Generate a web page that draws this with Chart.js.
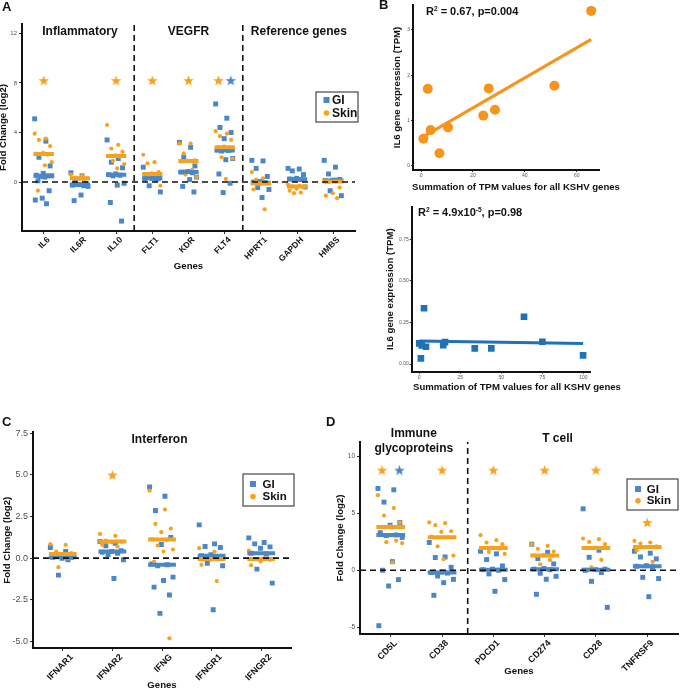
<!DOCTYPE html>
<html lang="en">
<head>
<meta charset="UTF-8">
<title>KSHV gene expression panels</title>
<script src="https://cdn.jsdelivr.net/npm/chart.js@4.4.1/dist/chart.umd.min.js"></script>
<style>
    html, body { margin: 0; padding: 0; overflow: hidden; background: #fff; }
    body { width: 685px; height: 689px; position: relative; font-family: "Liberation Sans", Arial, sans-serif; color: #111; }
    canvas, .lbl { position: absolute; }
    .letter { font-weight: bold; font-size: 13px; line-height: 1; }
    .stat { font-weight: bold; font-size: 11px; line-height: 12px; white-space: nowrap; }
    .stat sup { font-size: 6.5px; vertical-align: baseline; position: relative; top: -4px; }
    .axt { font-weight: bold; font-size: 9.6px; line-height: 12px; text-align: center; white-space: nowrap; }
</style>
</head>
<body>
<canvas id="chartA" width="362" height="272" style="left:0;top:0"></canvas>
<canvas id="chartBtop" width="300" height="193" style="left:385px;top:0"></canvas>
<canvas id="chartBbottom" width="300" height="200" style="left:385px;top:195px"></canvas>
<canvas id="chartC" width="298" height="266" style="left:0;top:425px"></canvas>
<canvas id="chartD" width="350" height="264" style="left:335px;top:425px"></canvas>

<div class="lbl letter" style="left:2px;top:0">A</div>
<div class="lbl letter" style="left:379px;top:-2px">B</div>
<div class="lbl letter" style="left:2px;top:415px">C</div>
<div class="lbl letter" style="left:326px;top:415px">D</div>
<div class="lbl stat" style="left:426px;top:5px">R<sup>2</sup> = 0.67, p=0.004</div>
<div class="lbl stat" style="left:418px;top:206px">R<sup>2</sup> = 4.9x10<sup>-5</sup>, p=0.98</div>
<div class="lbl axt" style="left:400px;width:232px;top:181px">Summation of TPM values for all KSHV genes</div>
<div class="lbl axt" style="left:401px;width:232px;top:381px">Summation of TPM values for all KSHV genes</div>

<script>
    // ---- Panel A: inflammatory / VEGFR / reference genes ----
    const genesA = ['IL6', 'IL6R', 'IL10', 'FLT1', 'KDR', 'FLT4', 'HPRT1', 'GAPDH', 'HMBS'];
    const giA = [
        [5.1, 3.3, 2.0, 1.3, 0.7, 0.55, 0.5, 0.45, 0.5, 0.4, 0.1, -0.7, -1.3, -1.45, -1.75],
        [0.75, 0.5, 0.1, -0.1, -0.2, -0.25, -0.3, -0.2, -0.35, -1.05, -1.5],
        [3.4, 1.9, 1.6, 1.15, 0.65, 0.6, 0.55, 0.5, -0.1, -0.25, -1.65, -3.15],
        [1.2, 0.5, 0.4, 0.3, 0.3, 0.25, 0.2, -0.3, -0.8],
        [3.2, 2.8, 2.0, 1.3, 0.85, 0.8, 0.75, 0.8, 0.4, 0.2, -0.35, -0.8],
        [6.3, 5.15, 4.4, 4.0, 3.5, 2.6, 2.55, 2.5, 1.9, 1.8, 0.65, -0.1, -0.85],
        [1.75, 1.7, 1.1, 0.45, 0.05, 0.0, -0.05, -0.45, -0.6, -1.25],
        [1.1, 1.05, 0.9, 0.6, 0.3, 0.25, 0.2, 0.2, -0.4],
        [1.75, 1.2, 0.65, 0.2, 0.15, 0.1, 0.15, -0.7, -1.1]
    ];
    const skinA = [
        [3.9, 3.5, 3.4, 2.9, 2.35, 2.3, 2.2, 2.25, 1.6, 1.35, -0.7],
        [0.6, 0.5, 0.35, 0.3, 0.25, 0.3, 0.2],
        [4.6, 3.0, 2.7, 2.45, 2.15, 2.1, 2.05, 1.7, 1.45, 1.1],
        [2.2, 1.6, 1.5, 0.8, 0.7, 0.65, 0.6, 0.5, -0.3],
        [3.1, 3.1, 2.3, 1.75, 1.7, 1.65, 1.0, 0.6, 0.4],
        [4.1, 3.9, 3.7, 3.4, 2.85, 2.8, 2.75, 2.0, 1.9, 0.25],
        [0.8, 0.3, 0.2, -0.1, -0.15, -0.6, -2.2],
        [-0.2, -0.3, -0.35, -0.4, -0.55, -0.7, -0.85, -0.9],
        [0.2, 0.05, 0.0, -0.45, -0.9, -1.1, -1.3]
    ];
    const giMedA = [0.5, -0.2, 0.58, 0.3, 0.8, 2.55, -0.05, 0.22, 0.12];
    const skinMedA = [2.27, 0.3, 2.1, 0.65, 1.7, 2.8, -0.12, -0.35, 0.05];
    const giStarA = [null, null, null, null, null, 8.2, null, null, null];
    const skinStarA = [8.2, null, 8.2, 8.2, 8.2, 8.2, null, null, null];
    const yTicksA = [0, 4, 8, 12];

    // ---- Panel C: interferon ----
    const genesC = ['IFNAR1', 'IFNAR2', 'IFNG', 'IFNGR1', 'IFNGR2'];
    const giC = [
        [0.64, 0.4, 0.1, 0.05, 0.0, 0.05, -0.1, -1.02],
        [1.0, 0.9, 0.75, 0.45, 0.4, 0.35, 0.3, 0.2, -0.1, -1.22],
        [4.28, 3.72, 2.86, 1.24, 0.82, -0.35, -0.4, -0.45, -1.14, -1.34, -1.74, -2.22, -3.32],
        [2.0, 0.86, 0.7, 0.64, 0.2, 0.15, 0.1, -0.3, -0.46, -3.1],
        [1.22, 0.94, 0.86, 0.68, 0.6, 0.3, 0.25, -0.66, -1.5]
    ];
    const skinC = [
        [0.84, 0.8, 0.4, 0.3, 0.25, 0.2, 0.0, -0.54],
        [1.46, 1.34, 1.05, 1.0, 0.95, 0.8, 0.7],
        [4.06, 2.92, 2.06, 1.78, 1.56, 1.15, 1.1, 0.76, 0.52, 0.4, -0.2, -4.82],
        [0.6, 0.4, 0.0, -0.05, -0.1, -0.4, -1.38],
        [0.46, 0.0, -0.05, -0.1, -0.2, -0.42]
    ];
    const giMedC = [0.05, 0.4, -0.4, 0.15, 0.3];
    const skinMedC = [0.25, 1.0, 1.12, -0.05, -0.05];
    const giStarC = [null, null, null, null, null];
    const skinStarC = [null, 5.0, null, null, null];
    const yTicksC = [-5, -2.5, 0, 2.5, 5, 7.5];

    // ---- Panel D: immune glycoproteins / T cell ----
    const genesD = ['CD5L', 'CD38', 'PDCD1', 'CD274', 'CD28', 'TNFRSF9'];
    const giD = [
        [7.19, 7.07, 5.99, 4.2, 3.96, 3.3, 3.1, 3.05, 2.88, 0.76, 0.0, -0.82, -1.38, -4.87],
        [2.44, 1.17, 1.12, 0.26, -0.15, -0.2, -0.25, -0.5, -0.8, -1.09, -2.2],
        [1.67, 1.44, 0.94, 0.38, 0.1, 0.05, 0.0, -0.32, -0.82, -1.85],
        [2.29, 1.58, 1.03, 0.56, 0.15, 0.1, 0.05, -0.26, -0.53, -0.79, -2.11],
        [5.4, 1.76, 1.14, 0.1, 0.05, 0.0, -0.2, -0.97, -3.26],
        [1.67, 1.5, 1.17, 1.0, 0.4, 0.35, 0.3, -0.62, -0.73, -2.32]
    ];
    const skinD = [
        [6.6, 5.46, 4.81, 4.2, 3.85, 3.8, 2.6, 2.47, 2.38, 0.7],
        [4.2, 4.14, 3.96, 3.43, 3.38, 2.95, 2.9, 2.1, 1.29, 0.97],
        [3.08, 2.64, 2.44, 2.29, 2.0, 1.95, 1.9, 1.61, 1.44],
        [2.29, 2.14, 1.88, 1.64, 1.35, 1.3, 0.91, 0.53],
        [2.79, 2.73, 2.49, 2.29, 2.0, 1.95, 0.91, 0.26],
        [2.58, 2.44, 2.35, 2.1, 2.05, 1.73, 0.73]
    ];
    const giMedD = [3.1, -0.2, 0.05, 0.1, 0.05, 0.35];
    const skinMedD = [3.8, 2.9, 1.95, 1.3, 1.95, 2.05];
    const giStarD = [8.8, null, null, null, null, null];
    const skinStarD = [8.8, 8.8, 8.8, 8.8, 8.8, 4.2];
    const yTicksD = [-5, 0, 5, 10];

    // ---- Panel B: IL6 vs summed KSHV TPM ----
    const kshvTop = [65.6, 2.6, 26.1, 51.4, 28.5, 24.0, 10.4, 3.7, 0.9, 7.1];
    const il6Top = [3.42, 1.70, 1.71, 1.77, 1.24, 1.11, 0.85, 0.79, 0.60, 0.28];
    const xTicksTop = [0, 20, 40, 60];
    const yTicksTop = [0, 1, 2, 3];
    const kshvBottom = [2.9, 63.8, 75.0, 99.8, 43.9, 33.8, 15.7, 14.6, 1.0, 0.0, 1.5, 4.1];
    const il6Bottom = [0.335, 0.284, 0.134, 0.052, 0.094, 0.094, 0.132, 0.114, 0.034, 0.124, 0.112, 0.104];
    const xTicksBottom = [0, 25, 50, 75, 100];
    const yTicksBottom = [0, 0.25, 0.5, 0.75];

    const FONT = '"Liberation Sans", Arial, Helvetica, sans-serif';
    const BLUE = '#4a86c8', ORANGE = '#f7a21f';
    Chart.defaults.font.family = FONT;
    Chart.defaults.color = '#111';
    Chart.defaults.animation = false;

    // spread points sideways inside a category (fixed pattern, not random)
    function jitter(j) { return ((j * 0.618034) % 1 - 0.5) * 0.5; }

    function starImage(color, size) {
        const c = document.createElement('canvas');
        c.width = c.height = size;
        const g = c.getContext('2d');
        g.fillStyle = color;
        g.beginPath();
        for (let i = 0; i < 10; i++) {
            const r = i % 2 ? size * 0.21 : size * 0.5;
            const a = -Math.PI / 2 + i * Math.PI / 5;
            g.lineTo(size / 2 + r * Math.cos(a), size / 2 + 0.5 + r * Math.sin(a));
        }
        g.closePath();
        g.fill();
        return c;
    }

    function fixedTicks(values) {
        return scale => { scale.ticks = values.map(v => ({ value: v })); };
    }

    function axisBase() {
        return {
            border: { display: true, color: '#111', width: 2 },
            grid: { display: true, drawOnChartArea: false, drawTicks: true, tickLength: 3, color: '#333' }
        };
    }

    // group headings and boxed legend inside the strip plots
    const stripDecor = {
        id: 'stripDecor',
        afterDatasetsDraw(chart, args, opts) {
            const ctx = chart.ctx, xs = chart.scales.x, top = chart.chartArea.top;
            ctx.save();
            ctx.fillStyle = '#111';
            ctx.textAlign = 'center';
            ctx.textBaseline = 'middle';
            ctx.font = 'bold 12px ' + FONT;
            (opts.groups || []).forEach(g => {
                g.lines.forEach((t, k) => ctx.fillText(t, xs.getPixelForValue(g.at), top + g.dy + k * 15));
            });
            const L = opts.legend;
            if (L) {
                ctx.fillStyle = '#fff';
                ctx.fillRect(L.x, L.y, L.w, L.h);
                ctx.strokeStyle = '#555';
                ctx.lineWidth = 1.3;
                ctx.strokeRect(L.x, L.y, L.w, L.h);
                ctx.fillStyle = BLUE;
                ctx.fillRect(L.mx - 3, L.y1 - 3, 6, 6);
                ctx.fillStyle = ORANGE;
                ctx.beginPath();
                ctx.arc(L.mx, L.y2, 2.8, 0, Math.PI * 2);
                ctx.fill();
                ctx.fillStyle = '#111';
                ctx.textAlign = 'left';
                ctx.font = 'bold ' + L.size + 'px ' + FONT;
                ctx.fillText('GI', L.tx, L.y1 + 0.5);
                ctx.fillText('Skin', L.tx, L.y2 + 0.5);
            }
            ctx.restore();
        }
    };

    function stripChart(id, p) {
        const n = p.genes.length;
        const dash = { type: 'line', borderColor: '#111', borderWidth: 1.6, borderDash: [6, 4], pointRadius: 0 };
        const pts = groups => groups.flatMap((vals, i) => vals.map((v, j) => ({ x: i + 1 + jitter(j), y: v })));
        const bars = meds => meds.flatMap((m, i) => [{ x: i + 0.72, y: m }, { x: i + 1.28, y: m }, { x: i + 1, y: null }]);
        const stars = (own, other, side) => own.flatMap((v, i) =>
            v == null ? [] : [{ x: i + 1 + (other[i] == null ? 0 : side * 0.17), y: v }]);

        const datasets = [
            { ...dash, label: 'zero', data: [{ x: 0.4, y: 0 }, { x: n + 0.6, y: 0 }] },
            ...p.separators.map(s => ({ ...dash, label: 'sep', data: [{ x: s, y: p.yMin }, { x: s, y: p.yMax }] })),
            { label: 'Skin star', data: stars(p.skinStar, p.giStar, -1), pointStyle: starImage(ORANGE, 11), pointRadius: 6 },
            { label: 'GI star', data: stars(p.giStar, p.skinStar, 1), pointStyle: starImage(BLUE, 11), pointRadius: 6 },
            { type: 'line', label: 'Skin median', data: bars(p.skinMed), borderColor: ORANGE, borderWidth: 4, pointRadius: 0, spanGaps: false },
            { type: 'line', label: 'GI median', data: bars(p.giMed), borderColor: BLUE, borderWidth: 4, pointRadius: 0, spanGaps: false },
            { label: 'Skin', data: pts(p.skin), pointStyle: 'circle', pointRadius: 2.1, backgroundColor: ORANGE, pointBorderWidth: 0 },
            { label: 'GI', data: pts(p.gi), pointStyle: 'rect', pointRadius: 3.5, backgroundColor: BLUE, pointBorderWidth: 0 }
        ];

        return new Chart(document.getElementById(id), {
            type: 'scatter',
            data: { datasets },
            options: {
                responsive: false,
                animation: false,
                layout: { padding: p.padding },
                plugins: {
                    legend: { display: false },
                    tooltip: { enabled: false },
                    stripDecor: { groups: p.groups, legend: p.legend }
                },
                scales: {
                    x: {
                        ...axisBase(),
                        min: 0.4, max: n + 0.6,
                        afterBuildTicks: fixedTicks(p.genes.map((g, i) => i + 1)),
                        afterFit: s => { s.height = p.xHeight; },
                        ticks: {
                            autoSkip: false, minRotation: 45, maxRotation: 45, padding: 1, labelOffset: p.labelShift,
                            font: { size: p.xTickSize, weight: 'bold' }, color: '#111',
                            callback: v => p.genes[Math.round(v) - 1]
                        },
                        title: { display: true, text: 'Genes', font: { size: 9.6, weight: 'bold' }, color: '#111', padding: { top: 0, bottom: 0 } }
                    },
                    y: {
                        ...axisBase(),
                        min: p.yMin, max: p.yMax,
                        afterBuildTicks: fixedTicks(p.yTicks),
                        afterFit: s => { s.width = p.yWidth; },
                        ticks: { font: { size: p.yTickSize }, color: '#4d4d4d', padding: 2, callback: p.yFmt },
                        title: { display: true, text: 'Fold Change (log2)', font: { size: 9.6, weight: 'bold' }, color: '#111', padding: { top: p.yTitlePad, bottom: 0 } }
                    }
                }
            },
            plugins: [stripDecor]
        });
    }

    function fitLine(xs, ys) {
        const n = xs.length;
        const mx = xs.reduce((a, b) => a + b, 0) / n;
        const my = ys.reduce((a, b) => a + b, 0) / n;
        let sxy = 0, sxx = 0;
        xs.forEach((x, i) => { sxy += (x - mx) * (ys[i] - my); sxx += (x - mx) * (x - mx); });
        const b = sxy / sxx, a = my - b * mx;
        const lo = Math.min(...xs), hi = Math.max(...xs);
        return [{ x: lo, y: a + b * lo }, { x: hi, y: a + b * hi }];
    }

    function corrChart(id, p) {
        return new Chart(document.getElementById(id), {
            type: 'scatter',
            data: {
                datasets: [
                    { type: 'line', label: 'fit', data: fitLine(p.x, p.y), borderColor: p.color, borderWidth: 3, pointRadius: 0 },
                    { label: 'samples', data: p.x.map((v, i) => ({ x: v, y: p.y[i] })), pointStyle: p.style,
                      pointRadius: p.r, backgroundColor: p.color, pointBorderWidth: 0 }
                ]
            },
            options: {
                responsive: false,
                animation: false,
                layout: { padding: p.padding },
                plugins: { legend: { display: false }, tooltip: { enabled: false } },
                scales: {
                    x: {
                        ...axisBase(),
                        min: p.xMin, max: p.xMax,
                        afterBuildTicks: fixedTicks(p.xTicks),
                        afterFit: s => { s.height = p.xHeight; },
                        ticks: { font: { size: 5 }, color: '#555', padding: 1, maxRotation: 0 },
                        grid: { display: true, drawOnChartArea: false, drawTicks: true, tickLength: 2, color: '#333' }
                    },
                    y: {
                        ...axisBase(),
                        min: p.yMin, max: p.yMax,
                        afterBuildTicks: fixedTicks(p.yTicks),
                        afterFit: s => { s.width = p.yWidth; },
                        ticks: { font: { size: 5 }, color: '#555', padding: 1, callback: p.yFmt },
                        grid: { display: true, drawOnChartArea: false, drawTicks: true, tickLength: 2, color: '#333' },
                        title: { display: true, text: 'IL6 gene expression (TPM)', font: { size: 9.6, weight: 'bold' }, color: '#111', padding: { top: 0, bottom: 0 } }
                    }
                }
            }
        });
    }

    stripChart('chartA', {
        genes: genesA, gi: giA, skin: skinA, giMed: giMedA, skinMed: skinMedA, giStar: giStarA, skinStar: skinStarA,
        yMin: -3.95, yMax: 12.75, yTicks: yTicksA, yFmt: v => v, yTickSize: 6, yTitlePad: -2,
        xTickSize: 8.5, labelShift: 5, separators: [3.5, 6.5],
        padding: { left: 0, top: 24, right: 2, bottom: 0 }, yWidth: 22, xHeight: 41,
        groups: [{ at: 2, dy: 8, lines: ['Inflammatory'] }, { at: 5, dy: 8, lines: ['VEGFR'] }, { at: 8.05, dy: 8, lines: ['Reference genes'] }],
        legend: { x: 316, y: 92, w: 42, h: 30, mx: 326.5, tx: 332, y1: 100, y2: 113, size: 12 }
    });

    stripChart('chartC', {
        genes: genesC, gi: giC, skin: skinC, giMed: giMedC, skinMed: skinMedC, giStar: giStarC, skinStar: skinStarC,
        yMin: -5.4, yMax: 7.56, yTicks: yTicksC, yFmt: v => v.toFixed(1), yTickSize: 9, yTitlePad: 2,
        xTickSize: 9, labelShift: 9, separators: [],
        padding: { left: 0, top: 7, right: 3, bottom: 0 }, yWidth: 33, xHeight: 43,
        groups: [{ at: 2.95, dy: 7, lines: ['Interferon'] }],
        legend: { x: 243, y: 49, w: 51, h: 32, mx: 253, tx: 262.5, y1: 59, y2: 71.6, size: 11.5 }
    });

    stripChart('chartD', {
        genes: genesD, gi: giD, skin: skinD, giMed: giMedD, skinMed: skinMedD, giStar: giStarD, skinStar: skinStarD,
        yMin: -5.6, yMax: 11.27, yTicks: yTicksD, yFmt: v => v, yTickSize: 6.5, yTitlePad: 0,
        xTickSize: 9, labelShift: 5, separators: [2.5],
        padding: { left: 0, top: 17, right: 1, bottom: 12 }, yWidth: 25, xHeight: 43,
        groups: [{ at: 1.45, dy: -8, lines: ['Immune', 'glycoproteins'] }, { at: 4.25, dy: -3.6, lines: ['T cell'] }],
        legend: { x: 292, y: 54, w: 51, h: 31, mx: 303, tx: 311.7, y1: 64, y2: 75.7, size: 11.5 }
    });

    corrChart('chartBtop', {
        x: kshvTop, y: il6Top, color: '#f7941d', style: 'circle', r: 5,
        xMin: -3.1, xMax: 68.6, xTicks: xTicksTop, yMin: -0.09, yMax: 3.55, yTicks: yTicksTop, yFmt: v => v,
        padding: { left: 7, top: 5, right: 86, bottom: 0 }, yWidth: 21, xHeight: 23
    });

    corrChart('chartBbottom', {
        x: kshvBottom, y: il6Bottom, color: '#1f72b8', style: 'rect', r: 4.7,
        xMin: -4.6, xMax: 104, xTicks: xTicksBottom, yMin: -0.046, yMax: 0.945, yTicks: yTicksBottom, yFmt: v => v.toFixed(2),
        padding: { left: 0, top: 11.7, right: 95, bottom: 0 }, yWidth: 26.7, xHeight: 23.3
    });
</script>
</body>
</html>
